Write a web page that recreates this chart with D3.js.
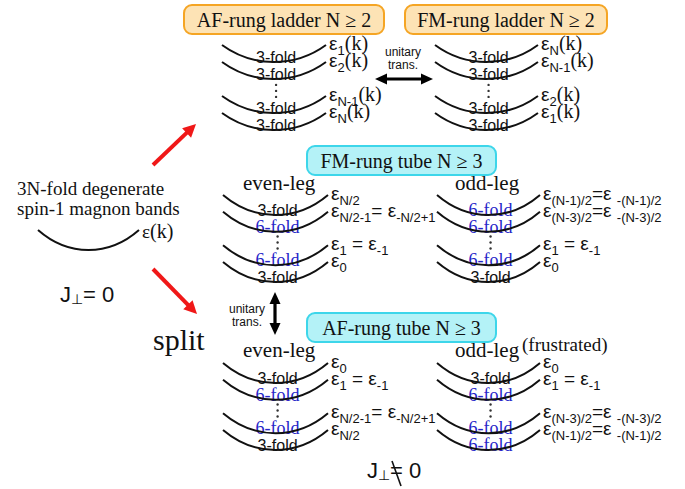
<!DOCTYPE html>
<html>
<head>
<meta charset="utf-8">
<script src="https://cdn.jsdelivr.net/npm/d3@7"></script>
<style>
  body { margin: 0; background: #fff; }
  svg { display: block; }
  text { white-space: pre; }
</style>
</head>
<body>
<svg id="fig"></svg>
<script>
// --- data: band labels ---
var boxTitles = ["AF-rung ladder N \u2265 2", "FM-rung ladder N \u2265 2", "FM-rung tube N \u2265 3", "AF-rung tube N \u2265 3"];
var slots = ["b1", "b2", "gap", "b3", "b4"];   // 4 bands + the dotted gap
var bandSlots = ["b1", "b2", "b3", "b4"];

var afLadderFolds = ["3-fold", "3-fold", "3-fold", "3-fold"];
var afLadderLevels = ["ε_{1}(k)", "ε_{2}(k)", "ε_{N-1}(k)", "ε_{N}(k)"];
var fmLadderFolds = ["3-fold", "3-fold", "3-fold", "3-fold"];
var fmLadderLevels = ["ε_{N}(k)", "ε_{N-1}(k)", "ε_{2}(k)", "ε_{1}(k)"];

var fmTubeEvenFolds = ["3-fold", "6-fold", "6-fold", "3-fold"];
var fmTubeEvenLevels = ["ε_{N/2}", "ε_{N/2-1}= ε_{-N/2+1}", "ε_{1} = ε_{-1}", "ε_{0}"];
var fmTubeOddFolds = ["6-fold", "6-fold", "6-fold", "3-fold"];
var fmTubeOddLevels = ["ε_{(N-1)/2}=ε _{-(N-1)/2}", "ε_{(N-3)/2}=ε _{-(N-3)/2}", "ε_{1} = ε_{-1}", "ε_{0}"];

var afTubeEvenFolds = ["3-fold", "6-fold", "6-fold", "3-fold"];
var afTubeEvenLevels = ["ε_{0}", "ε_{1} = ε_{-1}", "ε_{N/2-1}= ε_{-N/2+1}", "ε_{N/2}"];
var afTubeOddFolds = ["3-fold", "6-fold", "6-fold", "6-fold"];
var afTubeOddLevels = ["ε_{0}", "ε_{1} = ε_{-1}", "ε_{(N-3)/2}=ε _{-(N-3)/2}", "ε_{(N-1)/2}=ε _{-(N-1)/2}"];

var freeLevel = ["ε(k)"];
var freeText = ["3N-fold degenerate", "spin-1 magnon bands"];

var width = 685, height = 489;
var serif = "'Liberation Serif', 'Times New Roman', serif";
var sans = "'Liberation Sans', Arial, Helvetica, sans-serif";

var svg = d3.select("#fig").attr("width", width).attr("height", height)
  .attr("viewBox", [0, 0, width, height]);

// layout of each band stack
var panels = [
  {folds: afLadderFolds, levels: afLadderLevels, x: [222, 326], y: [45, 113], sag: 17},
  {folds: fmLadderFolds, levels: fmLadderLevels, x: [435, 538], y: [45, 113], sag: 17},
  {folds: fmTubeEvenFolds, levels: fmTubeEvenLevels, x: [223, 328], y: [195, 262], sag: 20},
  {folds: fmTubeOddFolds, levels: fmTubeOddLevels, x: [437, 540], y: [195, 262], sag: 20},
  {folds: afTubeEvenFolds, levels: afTubeEvenLevels, x: [223, 328], y: [363, 430], sag: 20},
  {folds: afTubeOddFolds, levels: afTubeOddLevels, x: [437, 540], y: [363, 430], sag: 20}
];

function band(x0, x1, y, sag) {
  var p = d3.path(), a = (x1 - x0) * 0.3, h = sag / 0.75;
  p.moveTo(x0, y);
  p.bezierCurveTo(x0 + a, y + h, x1 - a, y + h, x1, y);
  return p.toString();
}

// ε labels with _{sub} and serif (k)
function rich(t, str) {
  var parts = str.split(/(_\{[^}]*\}|\(k\))/).filter(function (s) { return s.length; });
  var shift = 0;
  parts.forEach(function (p) {
    var ts = t.append("tspan");
    if (p.indexOf("_{") === 0) {
      ts.text(p.slice(2, -1)).attr("font-size", 13).attr("dy", 5 - shift);
      shift = 5;
    } else if (p === "(k)") {
      ts.text(p).attr("font-family", serif).attr("font-size", 20).attr("dy", -shift);
      shift = 0;
    } else {
      ts.text(p).attr("font-size", 19).attr("dy", -shift);
      shift = 0;
    }
  });
}

function arrow(x1, y1, x2, y2, color, w, hl, hw, both) {
  var dx = x2 - x1, dy = y2 - y1, L = Math.hypot(dx, dy), ux = dx / L, uy = dy / L;
  var g = svg.append("g");
  var s = both ? hl * 0.8 : 0;
  g.append("line")
    .attr("x1", x1 + ux * s).attr("y1", y1 + uy * s)
    .attr("x2", x2 - ux * hl * 0.8).attr("y2", y2 - uy * hl * 0.8)
    .attr("stroke", color).attr("stroke-width", w);
  var heads = [[x2, y2, ux, uy]];
  if (both) heads.push([x1, y1, -ux, -uy]);
  heads.forEach(function (h) {
    var tx = h[0], ty = h[1], vx = h[2], vy = h[3];
    var bx = tx - vx * hl, by = ty - vy * hl;
    g.append("polygon")
      .attr("points", [[tx, ty], [bx - vy * hw, by + vx * hw], [bx + vy * hw, by - vx * hw]].join(" "))
      .attr("fill", color);
  });
}

// --- title boxes ---
var boxes = [
  {x: [184, 384], y: [5, 34], fill: "#fde3b5", stroke: "#f5a524"},
  {x: [405, 607], y: [5, 34], fill: "#fde3b5", stroke: "#f5a524"},
  {x: [307, 496], y: [146, 175], fill: "#b4f2f7", stroke: "#3dd6ea"},
  {x: [307, 496], y: [313, 342], fill: "#b4f2f7", stroke: "#3dd6ea"}
];
boxes.forEach(function (b, i) {
  svg.append("rect")
    .attr("x", b.x[0]).attr("y", b.y[0])
    .attr("width", b.x[1] - b.x[0]).attr("height", b.y[1] - b.y[0])
    .attr("rx", 8).attr("fill", b.fill).attr("stroke", b.stroke).attr("stroke-width", 2);
  svg.append("text")
    .attr("x", (b.x[0] + b.x[1]) / 2).attr("y", (b.y[0] + b.y[1]) / 2 + 7)
    .attr("text-anchor", "middle").attr("font-family", serif).attr("font-size", 20)
    .attr("fill", "#111").text(boxTitles[i]);
});

// --- band stacks ---
panels.forEach(function (pn) {
  var x = d3.scaleLinear().domain([0, 1]).range(pn.x);
  var y = d3.scalePoint().domain(slots).range(pn.y);
  var g = svg.append("g");
  var mid = x(0.52);

  bandSlots.forEach(function (s, i) {
    var f = pn.folds[i];
    var blue = f.charAt(0) === "6";
    g.append("text")
      .attr("x", mid).attr("y", y(s) + pn.sag + 1)
      .attr("text-anchor", "middle")
      .attr("font-family", blue ? serif : sans)
      .attr("font-size", blue ? 18 : 16)
      .attr("fill", blue ? "#2525c8" : "#111")
      .text(f);
    var t = g.append("text")
      .attr("x", x(1) + 3).attr("y", y(s) + 5)
      .attr("font-family", sans).attr("fill", "#111");
    rich(t, pn.levels[i]);
  });
  bandSlots.forEach(function (s) {
    g.append("path").attr("d", band(x(0), x(1), y(s), pn.sag))
      .attr("fill", "none").attr("stroke", "#111").attr("stroke-width", 2);
  });
  [-6, 0, 6].forEach(function (o) {
    g.append("circle").attr("cx", mid).attr("cy", y("gap") + pn.sag * 0.7 + o)
      .attr("r", 1.2).attr("fill", "#333");
  });
});

// --- leg labels ---
var legs = [
  {x: 243, y: 190, t: "even-leg"}, {x: 455, y: 190, t: "odd-leg"},
  {x: 243, y: 357, t: "even-leg"}, {x: 455, y: 357, t: "odd-leg"}
];
legs.forEach(function (l) {
  svg.append("text").attr("x", l.x).attr("y", l.y)
    .attr("font-family", serif).attr("font-size", 21).attr("fill", "#111").text(l.t);
});
svg.append("text").attr("x", 522).attr("y", 351)
  .attr("font-family", serif).attr("font-size", 19).attr("fill", "#111").text("(frustrated)");

// --- left: free magnon band ---
freeText.forEach(function (s, i) {
  svg.append("text").attr("x", 17).attr("y", 195 + i * 20)
    .attr("font-family", serif).attr("font-size", 19).attr("fill", "#111").text(s);
});
svg.append("path").attr("d", band(38, 139, 230, 20))
  .attr("fill", "none").attr("stroke", "#111").attr("stroke-width", 2);
rich(svg.append("text").attr("x", 142).attr("y", 238).attr("font-family", serif).attr("fill", "#111"), freeLevel[0]);

// J⊥ = 0 / J⊥ ≠ 0
function jLabel(x0, y0) {
  var t = svg.append("text").attr("x", x0).attr("y", y0)
    .attr("font-family", sans).attr("font-size", 22).attr("fill", "#111");
  t.append("tspan").text("J");
  t.append("tspan").text("\u22a5").attr("font-size", 14).attr("dy", 2);
  t.append("tspan").text("= 0").attr("dy", -2);
  return t;
}
jLabel(60, 302);
jLabel(367, 478);
svg.append("line").attr("x1", 392).attr("y1", 461).attr("x2", 401).attr("y2", 486)
  .attr("stroke", "#111").attr("stroke-width", 1.6);

svg.append("text").attr("x", 153).attr("y", 350)
  .attr("font-family", serif).attr("font-size", 30).attr("fill", "#111").text("split");

// --- arrows ---
arrow(153, 165, 196, 124, "#f01818", 4, 13, 6.5, false);
arrow(153, 269, 197, 314, "#f01818", 4, 13, 6.5, false);
arrow(375, 79, 433, 79, "#000", 3.2, 12, 5.5, true);
arrow(275, 292, 275, 335, "#000", 3.2, 12, 5.5, true);

// "unitary trans." captions
[[403, 56], [247, 313]].forEach(function (p) {
  svg.append("text").attr("x", p[0]).attr("y", p[1]).attr("text-anchor", "middle")
    .attr("font-family", sans).attr("font-size", 12).attr("fill", "#111").text("unitary");
  svg.append("text").attr("x", p[0]).attr("y", p[1] + 13).attr("text-anchor", "middle")
    .attr("font-family", sans).attr("font-size", 12).attr("fill", "#111").text("trans.");
});
</script>
</body>
</html>
